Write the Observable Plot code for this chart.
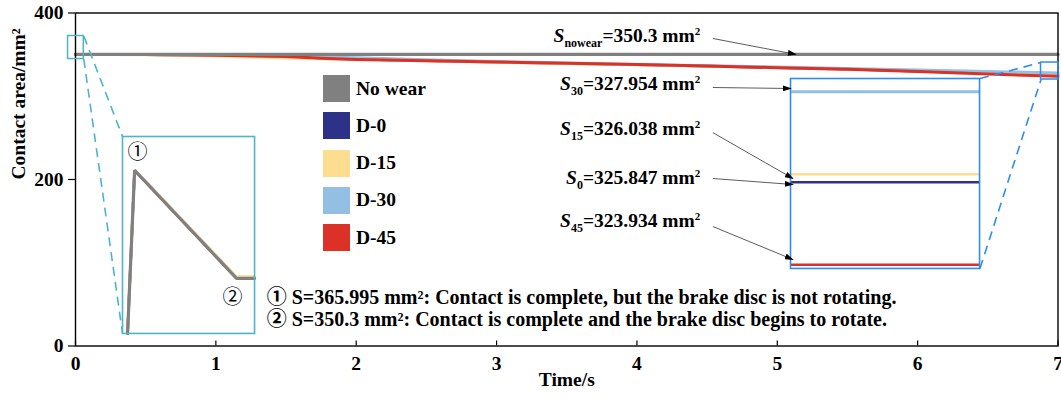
<!DOCTYPE html>
<html><head><meta charset="utf-8">
<script src="https://cdn.jsdelivr.net/npm/d3@7"></script>
<script src="https://cdn.jsdelivr.net/npm/@observablehq/plot@0.6"></script>
<style>
body{margin:0;background:#fff;}
#wrap{position:relative;width:1061px;height:398px;font-family:"Liberation Serif","Times New Roman",serif;font-weight:bold;color:#000;}
.lbl{position:absolute;font-size:19.5px;line-height:19px;white-space:nowrap;transform:translate(-100%,-50%);}
.lbl i{font-style:italic;}
.lbl sub{font-size:12px;vertical-align:-5px;line-height:0;}
.lbl sup{font-size:11px;vertical-align:7px;line-height:0;}
.leg{position:absolute;display:flex;align-items:center;font-size:19.5px;white-space:nowrap;}
.leg span.sw{display:inline-block;width:27px;height:27px;margin-right:6px;}
.inset{position:absolute;}
</style></head>
<body><div id="wrap"></div>
<script>
// ---------- data ----------
const seriesNames = ["No wear", "D-0", "D-15", "D-30", "D-45"];
const seriesColors = ["#808080", "#2e3188", "#fddd90", "#93c0e2", "#dc3127"];
const time = [0, 0.5, 1, 1.5, 1.75, 2, 2.5, 3, 3.5, 4, 4.5, 5, 5.5, 6, 6.5, 7];
const noWear = [350.3, 350.3, 350.3, 350.3, 350.3, 350.3, 350.3, 350.3, 350.3, 350.3, 350.3, 350.3, 350.3, 350.3, 350.3, 350.3];
const d0  = [350.3, 349.9, 348.9, 347.2, 346.0, 344.6, 342.6, 341.0, 339.4, 337.9, 336.2, 334.4, 332.4, 330.0, 327.7, 325.847];
const d15 = [350.3, 349.8, 348.2, 345.8, 345.0, 344.2, 342.4, 340.8, 339.3, 337.8, 336.2, 334.5, 332.6, 330.5, 328.4, 326.038];
const d30 = [350.3, 350.1, 349.4, 348.2, 347.4, 346.5, 344.0, 341.8, 340.0, 338.4, 336.9, 335.3, 333.6, 331.7, 329.9, 327.954];
const d45 = [350.3, 350.0, 349.2, 347.8, 345.5, 344.0, 342.7, 341.2, 339.6, 338.0, 336.3, 334.3, 332.3, 329.6, 326.8, 323.934];

// start transient (left inset)
const startTime = [0.0023, 0.0055, 0.0518, 0.06];
const startNoWear = [342.3, 365.995, 350.3, 350.3];
const startD0  = [342.3, 366.0, 350.32, 350.32];
const startD15 = [342.3, 366.1, 350.55, 350.55];
const startD30 = [342.3, 366.05, 350.4, 350.4];
const startD45 = [342.3, 366.0, 350.35, 350.35];

const xTicks = [0, 1, 2, 3, 4, 5, 6, 7];
const yTicks = [0, 200, 400];

// end values (right inset)
const endNames = ["D-30", "D-15", "D-0", "D-45"];
const endValues = [327.954, 326.038, 325.847, 323.934];
const endColors = ["#93c0e2", "#fddd90", "#2e3188", "#dc3127"];
const endWidths = [3, 2.5, 2.5, 2.5];

// annotation labels (HTML) and arrows, in data coordinates of main chart
const labelHtml = [
  "<i>S</i><sub>nowear</sub>=350.3 mm<sup>2</sup>",
  "<i>S</i><sub>30</sub>=327.954 mm<sup>2</sup>",
  "<i>S</i><sub>15</sub>=326.038 mm<sup>2</sup>",
  "<i>S</i><sub>0</sub>=325.847 mm<sup>2</sup>",
  "<i>S</i><sub>45</sub>=323.934 mm<sup>2</sup>"
];
const labelT = [4.455, 4.455, 4.455, 4.455, 4.455];
const labelV = [373.5, 315.3, 260.7, 203.0, 150.2];
const arrowT1 = [4.541, 4.541, 4.541, 4.541, 4.541];
const arrowV1 = [369.4, 310.5, 256.3, 201.2, 143.5];
const arrowT2 = [5.132, 5.097, 5.111, 5.111, 5.111];
const arrowV2 = [350.3, 309.3, 201.2, 194.0, 103.9];

const notes = [
  "\u2460 S=365.995 mm\u00b2: Contact is complete, but the brake disc is not rotating.",
  "\u2461 S=350.3 mm\u00b2: Contact is complete and the brake disc begins to rotate."
];
const noteT = [1.362, 1.362];
const noteV = [58.3, 31.8];

// zoom boxes & insets (data coords of main chart)
const zoomBoxes = [
  {x1: -0.053, x2: 0.059, y1: 344.7, y2: 372.4, c: "#4db5ca"},
  {x1: 6.879, x2: 7.004, y1: 320.1, y2: 340.5, c: "#2f8cf2"}
];
const insetBoxes = [
  {x1: 0.335, x2: 1.276, y1: 15.0, y2: 251.6},
  {x1: 5.097, x2: 6.444, y1: 93.1, y2: 321.3}
];
const connectors = [
  {x1: 0.059, y1: 372.4, x2: 0.335, y2: 251.6, c: "#4db5ca"},
  {x1: 0.059, y1: 344.7, x2: 0.335, y2: 15.0, c: "#4db5ca"},
  {x1: 6.444, y1: 321.3, x2: 6.879, y2: 340.5, c: "#2f8cf2"},
  {x1: 6.444, y1: 93.1, x2: 6.879, y2: 320.1, c: "#2f8cf2"}
];

// ---------- build ----------
const FONT = '"Liberation Serif","Times New Roman",serif';
const FONT_CJK = '"Liberation Serif","Noto Sans CJK SC",serif';
const rows = (vals, ts) => ts.map((t, i) => ({t, v: vals[i]}));
const mainSeries = [
  {vals: d0, c: seriesColors[1], w: 2.6},
  {vals: d15, c: seriesColors[2], w: 2.8},
  {vals: d30, c: seriesColors[3], w: 2.8},
  {vals: d45, c: seriesColors[4], w: 3},
  {vals: noWear, c: seriesColors[0], w: 3.2}
];
const arrows = arrowT1.map((t, i) => ({x1: t, y1: arrowV1[i], x2: arrowT2[i], y2: arrowV2[i]}));
const noteRows = notes.map((s, i) => ({s, t: noteT[i], v: noteV[i]}));

function filledArrow(color, context) {
  return d3.create("svg:marker")
    .attr("viewBox", "-8 -3 9 6")
    .attr("markerWidth", 9).attr("markerHeight", 6)
    .attr("markerUnits", "userSpaceOnUse")
    .attr("orient", "auto")
    .attr("fill", "black").attr("stroke", "none")
    .call(m => m.append("path").attr("d", "M-8,-3L1,0L-8,3Z"))
    .node();
}

const chart = Plot.plot({
  width: 1061, height: 398,
  marginLeft: 75, marginRight: 3.5, marginTop: 12.5, marginBottom: 52.5,
  style: {fontFamily: FONT, fontSize: "19px", fontWeight: "bold", overflow: "visible", background: "transparent"},
  x: {domain: [0, 7]},
  y: {domain: [0, 400]},
  marks: [
    ...mainSeries.map(s => Plot.line(rows(s.vals, time), {x: "t", y: "v", stroke: s.c, strokeWidth: s.w})),
    Plot.ruleX(xTicks, {y1: 0, y2: 6, stroke: "black", strokeWidth: 1.2}),
    Plot.axisX({ticks: xTicks, tickFormat: d => String(d), tickSize: 0, tickPadding: 10, label: null, fontSize: 19.5, fill: "black"}),
    Plot.axisY({ticks: yTicks, tickFormat: d => String(d), tickSize: 7, tickPadding: 5, label: null, fontSize: 19.5, fill: "black", strokeWidth: 1.2}),
    Plot.frame({stroke: "black", strokeWidth: 1.4}),
    Plot.rect(zoomBoxes, {x1: "x1", x2: "x2", y1: "y1", y2: "y2", stroke: "c", fill: "none", strokeWidth: 1.5}),
    Plot.link(connectors, {x1: "x1", y1: "y1", x2: "x2", y2: "y2", stroke: "c", strokeWidth: 1.6, strokeDasharray: "9,6"}),
    Plot.text(noteRows, {x: "t", y: "v", text: "s", textAnchor: "start", lineAnchor: "middle", fontSize: 20, fontFamily: FONT_CJK, fill: "black"}),
    Plot.text(["Time/s"], {frameAnchor: "bottom", dy: 39.5, text: d => d, fontSize: 19.5, fill: "black"}),
    Plot.text(["Contact area/mm\u00b2"], {frameAnchor: "left", rotate: -90, dx: -57, text: d => d, fontSize: 19.5, fill: "black"})
  ]
});

const wrap = document.getElementById("wrap");
chart.style.position = "absolute"; chart.style.left = "0px"; chart.style.top = "0px";
wrap.appendChild(chart);

const sx = chart.scale("x"), sy = chart.scale("y");
const X = d3.scaleLinear(sx.domain, sx.range);
const Y = d3.scaleLinear(sy.domain, sy.range);

// legend
seriesNames.forEach((n, i) => {
  const d = document.createElement("div");
  d.className = "leg";
  d.style.left = "323px";
  d.style.top = (75 + i * 37.3) + "px";
  d.innerHTML = `<span class="sw" style="background:${seriesColors[i]}"></span>${n}`;
  wrap.appendChild(d);
});

// annotation labels
labelHtml.forEach((h, i) => {
  const d = document.createElement("div");
  d.className = "lbl";
  d.style.left = X(labelT[i]) + "px";
  d.style.top = Y(labelV[i]) + "px";
  d.innerHTML = h;
  wrap.appendChild(d);
});

// left inset
{
  const b = insetBoxes[0];
  const w = X(b.x2) - X(b.x1), h = Y(b.y1) - Y(b.y2);
  const startSeries = [
    {vals: startD0, c: seriesColors[1]}, {vals: startD45, c: seriesColors[4]},
    {vals: startD30, c: seriesColors[3]}, {vals: startD15, c: seriesColors[2]},
    {vals: startNoWear, c: seriesColors[0]}
  ];
  const p = Plot.plot({
    width: w, height: h, margin: 0,
    style: {fontFamily: FONT_CJK, background: "white", overflow: "visible"},
    x: {domain: [0, 0.06], axis: null},
    y: {domain: [342.3, 370.9], axis: null},
    marks: [
      ...startSeries.map((s, k) => Plot.line(rows(s.vals, startTime), {x: "t", y: "v", stroke: s.c, strokeWidth: k === 4 ? 3.2 : 2.6, strokeLinejoin: "miter"})),
      Plot.text([{t: startTime[1], v: startNoWear[1], s: "\u2460"}], {x: "t", y: "v", text: "s", dy: -18, dx: 3, fontSize: 20, fill: "black", fontWeight: "normal"}),
      Plot.text([{t: startTime[2], v: startNoWear[2], s: "\u2461"}], {x: "t", y: "v", text: "s", dy: 19, dx: -4, fontSize: 20, fill: "black", fontWeight: "normal"}),
      Plot.frame({stroke: "#4db5ca", strokeWidth: 1.6})
    ]
  });
  p.classList.add("inset");
  p.style.left = X(b.x1) + "px"; p.style.top = Y(b.y2) + "px";
  wrap.appendChild(p);
}

// right inset
{
  const b = insetBoxes[1];
  const w = X(b.x2) - X(b.x1), h = Y(b.y1) - Y(b.y2);
  const ends = endValues.map((v, i) => ({v, c: endColors[i], w: endWidths[i]}));
  const p = Plot.plot({
    width: w, height: h, margin: 0,
    style: {background: "transparent", overflow: "visible"},
    x: {domain: [0, 1], axis: null},
    y: {domain: [323.845, 328.262], axis: null},
    marks: [
      ...ends.map(e => Plot.ruleY([e.v], {stroke: e.c, strokeWidth: e.w})),
      Plot.frame({stroke: "#2f8cf2", strokeWidth: 1.6})
    ]
  });
  p.classList.add("inset");
  p.style.left = X(b.x1) + "px"; p.style.top = Y(b.y2) + "px";
  wrap.appendChild(p);
}

// arrows drawn on top of the insets, in the main chart's scales
const arrowPlot = Plot.plot({
  width: 1061, height: 398,
  marginLeft: 75, marginRight: 3.5, marginTop: 12.5, marginBottom: 52.5,
  style: {background: "transparent", overflow: "visible"},
  x: {domain: [0, 7], axis: null},
  y: {domain: [0, 400], axis: null},
  marks: [
    Plot.link(arrows, {x1: "x1", y1: "y1", x2: "x2", y2: "y2", stroke: "#333", strokeWidth: 0.8, markerEnd: filledArrow})
  ]
});
arrowPlot.style.position = "absolute"; arrowPlot.style.left = "0px"; arrowPlot.style.top = "0px";
arrowPlot.style.pointerEvents = "none";
wrap.appendChild(arrowPlot);
</script>
</body></html>
